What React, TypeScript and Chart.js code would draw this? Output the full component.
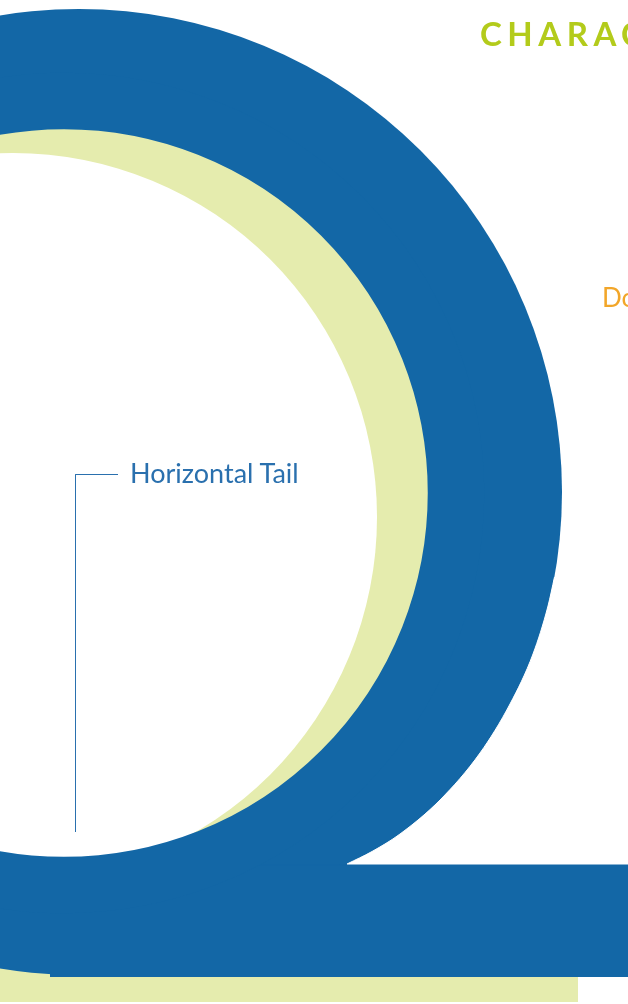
import React, { useEffect, useRef } from 'react';
import { Chart, registerables } from 'chart.js';

Chart.register(...registerables);

// ---- Data (chart units: x 0–628, y 0–1004 measured downward) ----
// Round shapes of the letterform and its shadow (drawn back to front)
const discNames = ['Shadow bowl', 'Letter bowl', 'Counter shadow', 'Counter', 'Counter rim'];
const discX = [29, 79, 64, 13, 64];
const discY = [517, 492, 493, 517, 493];
const discR = [483, 483, 365, 364, 392];

// Straight tail of the letterform and its shadow
const tailNames = ['Shadow tail', 'Letter tail'];
const tailStart = [-10, 50];
const tailEnd = [578, 640];
const tailTop = [890, 865];
const tailBottom = [1002, 977];

// Notch between the bowl's outer edge and the top of the tail
const notchX = [347, 372, 400, 440, 480, 510, 533, 548, 554.5];
const notchY = [864, 851.5, 834, 800, 753, 704, 654, 606, 577];
const notchBase = 865;

// Leader line for the "Horizontal Tail" callout
const leaderX = [118, 75.5, 75.5];
const leaderY = [474.5, 474.5, 832];

// ---- Styles ----
const BLUE = '#1367A6';
const SHADOW = '#E5ECAE';
const WHITE = '#FFFFFF';
const discFill = [SHADOW, BLUE, SHADOW, WHITE, 'rgba(0,0,0,0)'];
const discBorder = [SHADOW, BLUE, SHADOW, WHITE, BLUE];
const discBorderWidth = [0, 0, 0, 0, 56.5];
const discOrder = [10, 8, 6, 5, 4];
const tailColor = [SHADOW, BLUE];
const tailOrder = [9, 7];

export default function App() {
  const ref = useRef<HTMLCanvasElement | null>(null);

  useEffect(() => {
    if (!ref.current) return;
    const datasets: any[] = [];
    discNames.forEach((name, i) => {
      datasets.push({
        type: 'bubble',
        label: name,
        data: [{ x: discX[i], y: discY[i], r: discR[i] }],
        backgroundColor: discFill[i],
        borderColor: discBorder[i],
        borderWidth: discBorderWidth[i],
        hoverBorderWidth: discBorderWidth[i],
        hoverRadius: 0,
        order: discOrder[i],
      });
    });
    tailNames.forEach((name, i) => {
      datasets.push({
        type: 'line',
        label: name,
        data: [
          { x: tailStart[i], y: tailTop[i] },
          { x: tailEnd[i], y: tailTop[i] },
        ],
        fill: { value: tailBottom[i] },
        backgroundColor: tailColor[i],
        borderColor: tailColor[i],
        borderWidth: 1,
        pointRadius: 0,
        order: tailOrder[i],
      });
    });
    datasets.push({
      type: 'line',
      label: 'Tail notch',
      data: notchX.map((x, i) => ({ x, y: notchY[i] })),
      fill: { value: notchBase },
      backgroundColor: WHITE,
      borderColor: WHITE,
      borderWidth: 1,
      pointRadius: 0,
      cubicInterpolationMode: 'monotone',
      order: 7.5,
    });
    datasets.push({
      type: 'line',
      label: 'Horizontal Tail leader',
      data: leaderX.map((x, i) => ({ x, y: leaderY[i] })),
      fill: false,
      borderColor: '#2A70AE',
      borderWidth: 1,
      pointRadius: 0,
      tension: 0,
      order: 1,
    });

    const chart = new Chart(ref.current, {
      type: 'bubble',
      data: { datasets },
      options: {
        responsive: false,
        animation: false,
        events: [],
        layout: { padding: 0, autoPadding: false },
        plugins: {
          legend: { display: false },
          tooltip: { enabled: false },
          title: { display: false },
        },
        scales: {
          x: { type: 'linear', min: 0, max: 628, display: false },
          y: { type: 'linear', min: 0, max: 1004, reverse: true, display: false },
        },
      } as any,
    } as any);
    return () => chart.destroy();
  }, []);

  const textBase: React.CSSProperties = {
    position: 'absolute',
    whiteSpace: 'nowrap',
    lineHeight: 1,
    fontFamily: 'Lato, "Open Sans", sans-serif',
  };

  return (
    <div
      style={{
        position: 'absolute',
        left: 0,
        top: 0,
        width: 628,
        height: 1004,
        overflow: 'hidden',
        background: '#fff',
      }}
    >
      <canvas ref={ref} width={628} height={1004} style={{ position: 'absolute', left: 0, top: 0 }} />
      <div
        style={{
          ...textBase,
          left: 480,
          top: 17,
          fontSize: 33,
          fontWeight: 700,
          letterSpacing: '5.5px',
          color: '#B3CB1B',
        }}
      >
        CHARACTERISTICS
      </div>
      <div
        style={{
          ...textBase,
          left: 602,
          top: 284,
          fontSize: 26,
          fontWeight: 400,
          color: '#F2A629',
        }}
      >
        Dorsal Fin
      </div>
      <div
        style={{
          ...textBase,
          left: 130,
          top: 459,
          fontSize: 27,
          fontWeight: 400,
          color: '#2A70AE',
        }}
      >
        Horizontal Tail
      </div>
    </div>
  );
}
